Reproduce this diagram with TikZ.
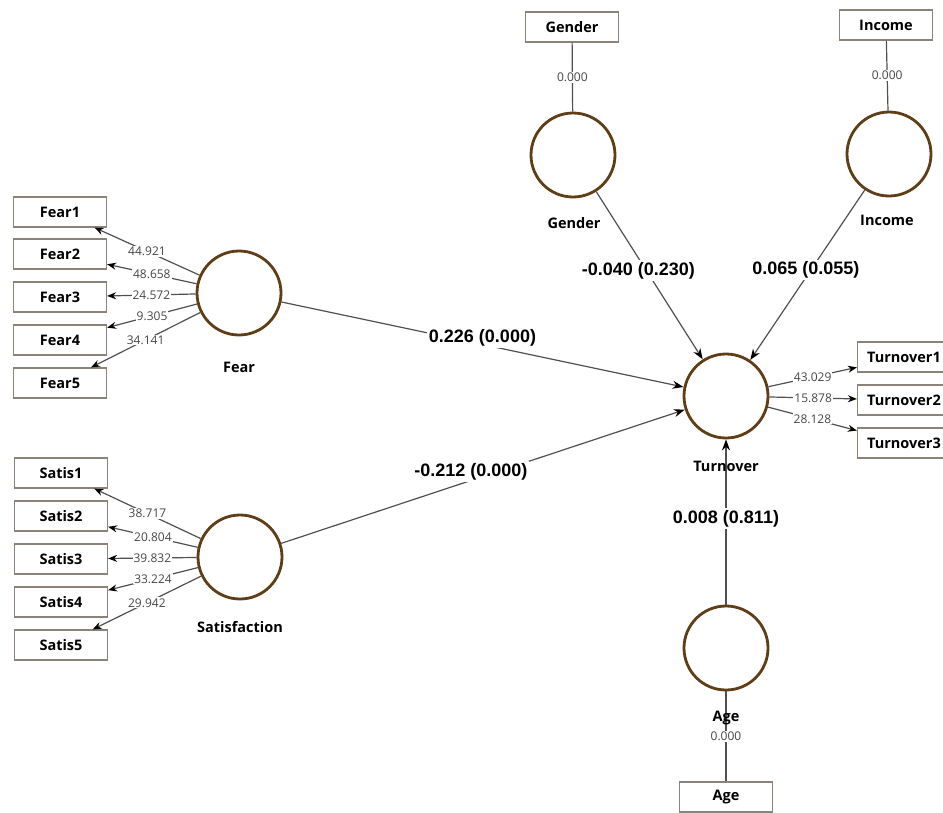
\documentclass[tikz,border=0pt]{standalone}
\usepackage{fontspec}
\setmainfont{Open Sans}
\newfontfamily\coeffont{Liberation Sans}
\usetikzlibrary{arrows.meta}
\definecolor{lvbrown}{RGB}{95,62,22}
\definecolor{boxgray}{RGB}{140,130,120}
\definecolor{linegray}{RGB}{80,80,80}
\definecolor{numgray}{RGB}{70,70,70}
\tikzset{
  lv/.style={circle, draw=lvbrown, line width=2.8pt, minimum size=84pt, inner sep=0pt, fill=white},
  ind/.style={rectangle, draw=boxgray, line width=1.2pt, minimum width=93pt, minimum height=30pt, inner sep=0pt, fill=white, font=\fontsize{14.5}{15}\selectfont\bfseries},
  lvlab/.style={font=\fontsize{14.5}{15}\selectfont\bfseries, inner sep=0pt},
  ld/.style={-{Stealth[length=9pt,width=7pt,color=black]}, draw=linegray, line width=1.2pt},
  ln/.style={draw=linegray, line width=1.2pt},
  ldn/.style={fill=white, inner sep=1pt, font=\fontsize{12}{12}\selectfont, text=numgray},
  pc/.style={-{Stealth[length=11pt,width=8pt,color=black]}, draw=linegray, line width=1.2pt},
  pcn/.style={fill=white, inner sep=2pt, font=\coeffont\fontsize{18}{18}\selectfont\bfseries}
}
\begin{document}
\begin{tikzpicture}[x=1pt,y=-1pt]
\useasboundingbox (0,0) rectangle (943,812);
% latent variables
\node[lv] (fear) at (239,293) {};
\node[lv] (satis) at (240,557) {};
\node[lv] (turn) at (726,396) {};
\node[lv] (gender) at (573,155) {};
\node[lv] (income) at (889,154) {};
\node[lv] (age) at (726,648) {};
% indicators
\node[ind] (f1) at (60,212) {Fear1};
\node[ind] (f2) at (60,254) {Fear2};
\node[ind] (f3) at (60,297) {Fear3};
\node[ind] (f4) at (60,340) {Fear4};
\node[ind] (f5) at (60,383) {Fear5};
\node[ind] (s1) at (61,473) {Satis1};
\node[ind] (s2) at (61,516) {Satis2};
\node[ind] (s3) at (61,559) {Satis3};
\node[ind] (s4) at (61,602) {Satis4};
\node[ind] (s5) at (61,645) {Satis5};
\node[ind] (t1) at (904,357) {Turnover1};
\node[ind] (t2) at (904,400) {Turnover2};
\node[ind] (t3) at (904,443) {Turnover3};
\node[ind] (gbox) at (572,27) {Gender};
\node[ind] (ibox) at (886,25) {Income};
\node[ind] (abox) at (726,797) {Age};
% loadings
\draw[ld] (fear) -- node[ldn, pos=0.5] {44.921} (f1);
\draw[ld] (fear) -- node[ldn, pos=0.5] {48.658} (f2);
\draw[ld] (fear) -- node[ldn, pos=0.5] {24.572} (f3);
\draw[ld] (fear) -- node[ldn, pos=0.5] {9.305} (f4);
\draw[ld] (fear) -- node[ldn, pos=0.5] {34.141} (f5);
\draw[ld] (satis) -- node[ldn, pos=0.5] {38.717} (s1);
\draw[ld] (satis) -- node[ldn, pos=0.5] {20.804} (s2);
\draw[ld] (satis) -- node[ldn, pos=0.5] {39.832} (s3);
\draw[ld] (satis) -- node[ldn, pos=0.5] {33.224} (s4);
\draw[ld] (satis) -- node[ldn, pos=0.5] {29.942} (s5);
\draw[ld] (turn) -- node[ldn, pos=0.5] {43.029} (t1);
\draw[ld] (turn) -- node[ldn, pos=0.5] {15.878} (t2);
\draw[ld] (turn) -- node[ldn, pos=0.5] {28.128} (t3);
\draw[ln] (gbox) -- node[ldn, pos=0.5] {0.000} (gender);
\draw[ln] (ibox) -- node[ldn, pos=0.5] {0.000} (income);
\draw[ln] (abox) -- node[ldn, pos=0.5] {0.000} (age);
% paths
\draw[pc] (fear) -- node[pcn, pos=0.5, yshift=7pt] {0.226 (0.000)} (turn);
\draw[pc] (satis) -- node[pcn, pos=0.47, yshift=9pt] {-0.212 (0.000)} (turn);
\draw[pc] (gender) -- node[pcn, pos=0.47, xshift=-8pt] {-0.040 (0.230)} (turn);
\draw[pc] (income) -- node[pcn, pos=0.47, xshift=-5pt] {0.065 (0.055)} (turn);
\draw[pc] (age) -- node[pcn, pos=0.52] {0.008 (0.811)} (turn);
% LV labels
\node[lvlab] (fearl) at (239,367) {Fear};
\node[lvlab] (satisl) at (240,627) {Satisfaction};
\node[lvlab] (turnl) at (726,466) {Turnover};
\node[lvlab] (genderl) at (574,223) {Gender};
\node[lvlab] (incomel) at (887,220) {Income};
\node[lvlab] (agel) at (726,718) {Age};
\end{tikzpicture}
\end{document}
